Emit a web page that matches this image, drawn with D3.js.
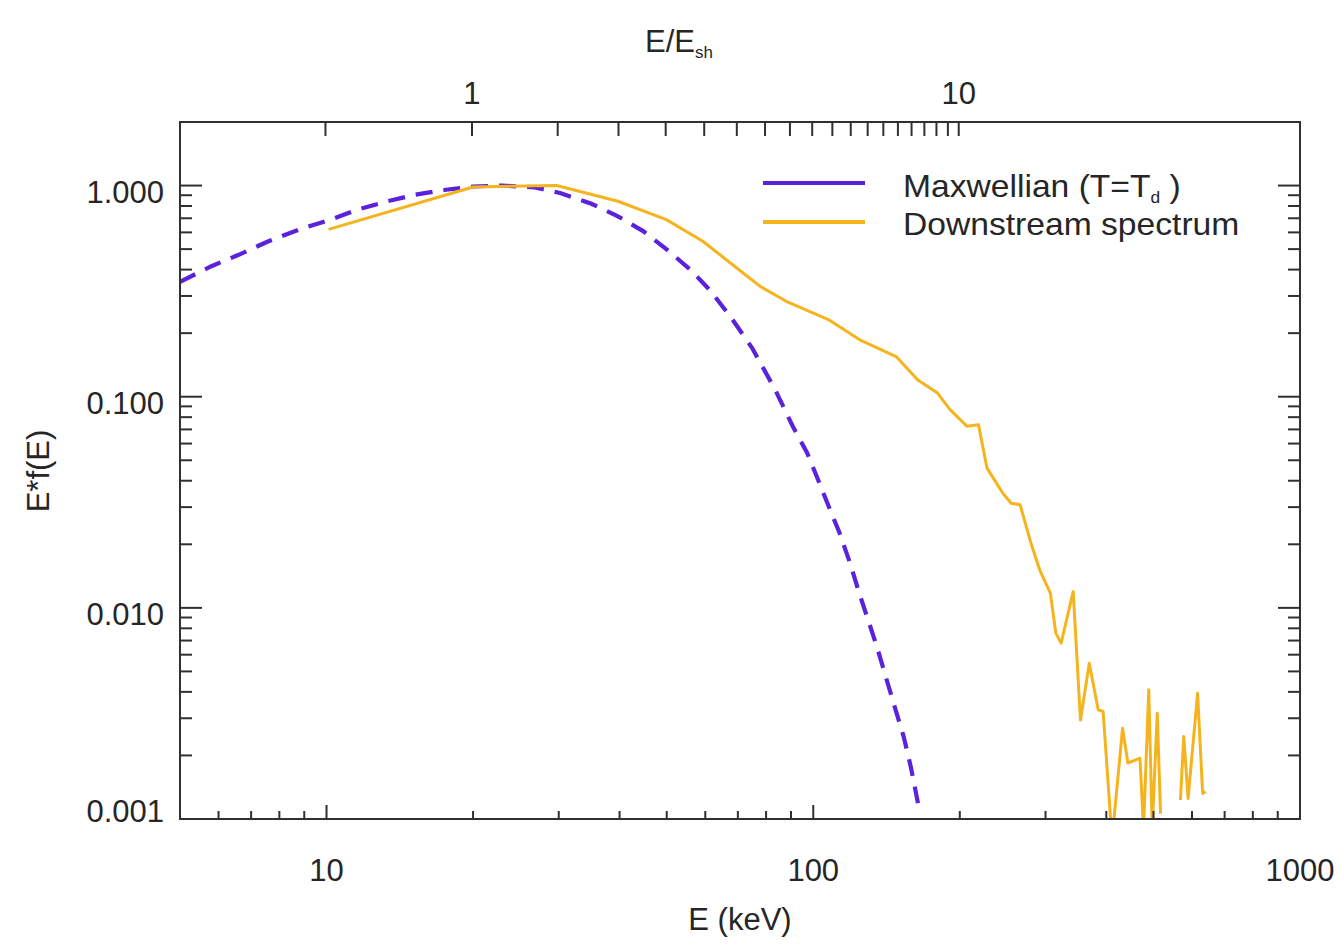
<!DOCTYPE html>
<html>
<head>
<meta charset="utf-8">
<script src="https://cdn.jsdelivr.net/npm/d3@7"></script>
<style>
  body { margin: 0; background: #fff; }
  text { font-family: "Liberation Sans", Arial, Helvetica, sans-serif; fill: #262626; }
</style>
</head>
<body>
<svg id="chart" width="1341" height="944"></svg>
<script>
// Maxwellian reference spectrum (T = T_d), E in keV, E*f(E) normalised to peak
const maxwellEnergy = [5, 5.8, 6.6, 7.6, 8.8, 10.2, 11.6, 13.4, 15.2, 17.6, 20, 23, 26.8, 30.3, 35, 39.7, 44.8,
  49.9, 55.9, 61.3, 67.7, 74.9, 83.5, 90.8, 97.1, 102.3, 107.6, 113.2, 119.0, 124.2, 129.6, 135.1, 140.9,
  147.0, 153.4, 158.6, 164.1];
const maxwellFlux = [0.35, 0.415, 0.47, 0.545, 0.62, 0.69, 0.77, 0.845, 0.905, 0.955, 0.99, 1.0, 0.98, 0.92, 0.82,
  0.715, 0.607, 0.50, 0.40, 0.32, 0.238, 0.17, 0.108, 0.0723, 0.0543, 0.0404, 0.0302, 0.0227, 0.0163, 0.0118,
  0.00877, 0.00656, 0.00472, 0.00340, 0.00245, 0.00177, 0.00119];

// Measured downstream spectrum (null = empty channel, leaves a gap)
const downEnergy = [10.1, 20, 29.7, 39.7, 49.9, 59.3, 68.9, 77.8, 88, 107.4, 124.6, 148, 164, 180, 191, 207, 218.5,
  227.5, 245, 255, 266, 280, 292, 307, 315, 323, 342, 354, 369, 385, 394, 411, 432, 443, 469, 477, 489, 497, 509,
  517, 540, 568, 577, 589, 616, 631, 640];
const downFlux = [0.62, 0.985, 1.0, 0.843, 0.69, 0.545, 0.415, 0.333, 0.283, 0.232, 0.186, 0.155, 0.12, 0.104,
  0.0868, 0.0724, 0.0736, 0.0459, 0.035, 0.0313, 0.0308, 0.0203, 0.0151, 0.01174, 0.00759, 0.00681, 0.01194,
  0.00294, 0.00547, 0.00329, 0.00323, 0.0008, 0.00269, 0.00184, 0.00194, 0.0009, 0.00409, 0.0009, 0.00317,
  0.00106, null, 0.00123, 0.00246, 0.00125, 0.00394, 0.00132, 0.00135];

// Axis labelling
const energyMajorTicks = [10, 100, 1000];
const energyTickLabels = ["10", "100", "1000"];
const fluxMajorTicks = [0.001, 0.01, 0.1, 1];
const fluxTickLabels = ["0.001", "0.010", "0.100", "1.000"];
const shockRatioTicks = [0.5, 1, 1.5, 2, 2.5, 3, 3.5, 4, 4.5, 5, 5.5, 6, 6.5, 7, 7.5, 8, 8.5, 9, 9.5, 10];
const shockRatioLabelled = [1, 10];
const shockEnergy = 19.9; // keV, E_sh

const seriesNames = ["Maxwellian (T=T", "Downstream spectrum"];
const colors = { maxwell: "#5a22dc", down: "#f5b41e", axis: "#303030" };

const svg = d3.select("#chart");
const plot = { left: 180, right: 1300, top: 122, bottom: 819 };

const x = d3.scaleLog().domain([5, 1000]).range([plot.left, plot.right]);
const y = d3.scaleLog().domain([0.001, 2.0]).range([plot.bottom, plot.top]);
const xTop = d3.scaleLog().domain([5 / shockEnergy, 1000 / shockEnergy]).range([plot.left, plot.right]);

const isDecade = v => Math.abs(Math.log10(v) - Math.round(Math.log10(v))) < 1e-9;

svg.append("defs").append("clipPath").attr("id", "plotClip")
  .append("rect").attr("x", plot.left).attr("y", plot.top)
  .attr("width", plot.right - plot.left).attr("height", plot.bottom - plot.top);

// ---- curves ----
const maxwellData = maxwellEnergy.map((e, i) => ({ e, f: maxwellFlux[i] }));
const downData = downEnergy.map((e, i) => ({ e, f: downFlux[i] }));

const line = d3.line().defined(d => d.f != null).x(d => x(d.e)).y(d => y(d.f));

const curves = svg.append("g").attr("clip-path", "url(#plotClip)");
curves.append("path").datum(maxwellData)
  .attr("d", line).attr("fill", "none")
  .attr("stroke", colors.maxwell).attr("stroke-width", 4.2)
  .attr("stroke-dasharray", "17,11");
curves.append("path").datum(downData)
  .attr("d", line).attr("fill", "none")
  .attr("stroke", colors.down).attr("stroke-width", 3)
  .attr("stroke-linejoin", "round");

// ---- frame ----
const axes = svg.append("g").attr("stroke", colors.axis).attr("stroke-width", 2);
axes.append("rect").attr("x", plot.left).attr("y", plot.top)
  .attr("width", plot.right - plot.left).attr("height", plot.bottom - plot.top)
  .attr("fill", "none");

// bottom energy ticks
x.ticks().forEach(v => {
  const len = isDecade(v) ? 14 : 8;
  axes.append("line").attr("x1", x(v)).attr("x2", x(v))
    .attr("y1", plot.bottom).attr("y2", plot.bottom - len);
});

// left and right flux ticks
y.ticks().forEach(v => {
  const len = isDecade(v) ? 22 : 12;
  axes.append("line").attr("x1", plot.left).attr("x2", plot.left + len)
    .attr("y1", y(v)).attr("y2", y(v));
  axes.append("line").attr("x1", plot.right).attr("x2", plot.right - len)
    .attr("y1", y(v)).attr("y2", y(v));
});

// top E/E_sh ticks
shockRatioTicks.forEach(v => {
  axes.append("line").attr("x1", xTop(v)).attr("x2", xTop(v))
    .attr("y1", plot.top).attr("y2", plot.top + 14);
});

// ---- tick labels ----
const labels = svg.append("g").attr("font-size", 31);
energyMajorTicks.forEach((v, i) => {
  labels.append("text").attr("x", x(v)).attr("y", 881)
    .attr("text-anchor", "middle").text(energyTickLabels[i]);
});
fluxMajorTicks.forEach((v, i) => {
  labels.append("text").attr("x", 164).attr("y", Math.min(y(v) + 17, 822))
    .attr("text-anchor", "end").text(fluxTickLabels[i]);
});
shockRatioLabelled.forEach(v => {
  labels.append("text").attr("x", xTop(v)).attr("y", 104)
    .attr("text-anchor", "middle").text(d3.format("d")(v));
});

// ---- axis titles ----
svg.append("text").attr("x", 740).attr("y", 930).attr("font-size", 31)
  .attr("text-anchor", "middle").text("E (keV)");

svg.append("text").attr("transform", "translate(49,471) rotate(-90)")
  .attr("font-size", 31).attr("text-anchor", "middle").text("E*f(E)");

const topTitle = svg.append("text").attr("x", 645).attr("y", 52).attr("font-size", 31);
topTitle.append("tspan").text("E/E");
topTitle.append("tspan").attr("font-size", 17).attr("dy", 6).text("sh");

// ---- legend ----
const legend = svg.append("g");
const legendRows = [
  { name: seriesNames[0], color: colors.maxwell, ly: 183, ty: 197, sub: "d" },
  { name: seriesNames[1], color: colors.down, ly: 222, ty: 235 }
];
legendRows.forEach(r => {
  legend.append("line").attr("x1", 763).attr("x2", 865).attr("y1", r.ly).attr("y2", r.ly)
    .attr("stroke", r.color).attr("stroke-width", 4);
  const t = legend.append("text")
    .attr("transform", `translate(903,${r.ty}) scale(1.085,1)`)
    .attr("font-size", 31);
  t.append("tspan").text(r.name);
  if (r.sub) {
    t.append("tspan").attr("font-size", 16).attr("dy", 6).text(r.sub);
    t.append("tspan").attr("dy", -6).text(" )");
  }
});
</script>
</body>
</html>
